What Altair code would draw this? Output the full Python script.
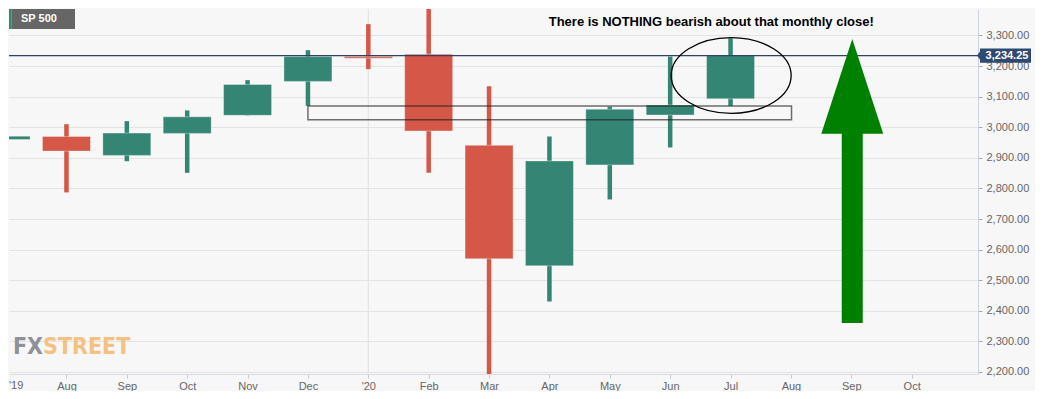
import json
import altair as alt
import pandas as pd

# ---------------- data ----------------
month_labels = ["'19", "Aug", "Sep", "Oct", "Nov", "Dec", "'20", "Feb", "Mar",
                "Apr", "May", "Jun", "Jul", "Aug", "Sep", "Oct"]
candle_idx = list(range(13))  # Jul 2019 .. Jul 2020
opens  = [2960, 2970, 2908, 2980, 3039, 3150, 3231, 3239, 2941, 2547, 2877, 3040, 3093]
highs  = [3026, 3010, 3020, 3055, 3154, 3252, 3337, 3393, 3134, 2970, 3067, 3231, 3291]
lows   = [2952, 2787, 2889, 2851, 3039, 3070, 3190, 2851, 2192, 2430, 2764, 2934, 3070]
closes = [2971, 2922, 2981, 3034, 3140, 3231, 3226, 2988, 2570, 2890, 3059, 3073, 3234.25]

last_close = 3234.25
zone_x = [5.0, 13.01]          # support box (month index)
zone_price = [3024.4, 3069.5]  # support box (price)
ellipse_at = [12.01, 3169.2]
arrow_at = [14.016, 2824.4]
note_at = [11.68, 3343]
note_text = "There is NOTHING bearish about that monthly close!"
y_ticks = list(range(2200, 3400, 100))

df = pd.DataFrame({"i": candle_idx, "open": opens, "high": highs,
                   "low": lows, "close": closes})
df["dir"] = ["up" if c >= o else "down" for o, c in zip(opens, closes)]

FONT = "Liberation Sans"
xs = alt.Scale(domain=[0.1311, 16.016], nice=False, zero=False)
ys = alt.Scale(domain=[2193.4, 3386.6], nice=False, zero=False)
cs = alt.Scale(domain=["up", "down"], range=["#348573", "#d45747"])

x_axis = alt.Axis(values=list(range(1, 16)),
                  labelExpr=f"{json.dumps(month_labels)}[datum.value]",
                  title=None, grid=False, tickSize=4, labelPadding=2,
                  tickColor="#c9c9c9", domainColor="#d9dce6",
                  labelColor="#666666", labelFontSize=11, labelFont=FONT)
y_axis = alt.Axis(orient="right", values=y_ticks, format=",.2f", title=None,
                  grid=True, gridColor="#e3e3e3", gridWidth=1.2,
                  tickSize=4, labelPadding=4, tickColor="#a9a9a9",
                  domainColor="#cdd3e3", labelColor="#666666",
                  labelFontSize=11, labelFont=FONT)


def X(field):
    return alt.X(field, scale=xs, axis=x_axis)


def Y(field):
    return alt.Y(field, scale=ys, axis=y_axis)


year_rule = alt.Chart(pd.DataFrame({"i": [month_labels.index("'20")]})).mark_rule(
    color="#e3e3e3", strokeWidth=1.2).encode(x=X("i:Q"))

wicks = alt.Chart(df).mark_rule(strokeWidth=4.5, clip=True).encode(
    x=X("i:Q"), y=Y("low:Q"), y2="high:Q",
    color=alt.Color("dir:N", scale=cs, legend=None))

bodies = alt.Chart(df).mark_bar(size=48, clip=True, stroke="white",
                                strokeOpacity=0.35, strokeWidth=1).encode(
    x=X("i:Q"), y=Y("open:Q"), y2="close:Q",
    color=alt.Color("dir:N", scale=cs, legend=None))

price_df = pd.DataFrame({"p": [last_close], "t": [f"{last_close:,.2f}"]})
price_line = alt.Chart(price_df).mark_rule(color="#2d4266", strokeWidth=1.2).encode(
    y=Y("p:Q"))

zone = alt.Chart(pd.DataFrame({"x0": [zone_x[0]], "x1": [zone_x[1]],
                               "y0": [zone_price[0]], "y1": [zone_price[1]]})).mark_rect(
    fillOpacity=0, stroke="#222222", strokeOpacity=0.65, strokeWidth=1.5).encode(
    x=X("x0:Q"), x2="x1:Q", y=Y("y0:Q"), y2="y1:Q")

ellipse_path = "M-1,0A1,0.63,0,1,1,1,0A1,0.63,0,1,1,-1,0Z"
ellipse = alt.Chart(pd.DataFrame({"i": [ellipse_at[0]], "p": [ellipse_at[1]]})).mark_point(
    shape=ellipse_path, size=14400, filled=False, stroke="black",
    strokeWidth=1.3, opacity=1).encode(x=X("i:Q"), y=Y("p:Q"))

arrow_path = ("M0,-1L0.218,-0.333L0.074,-0.333L0.074,1L-0.074,1"
              "L-0.074,-0.333L-0.218,-0.333Z")
arrow = alt.Chart(pd.DataFrame({"i": [arrow_at[0]], "p": [arrow_at[1]]})).mark_point(
    shape=arrow_path, size=80656, filled=True, color="#008000",
    strokeWidth=0, opacity=1).encode(x=X("i:Q"), y=Y("p:Q"))

note = alt.Chart(pd.DataFrame({"i": [note_at[0]], "p": [note_at[1]], "t": [note_text]})).mark_text(
    font=FONT, fontSize=13, fontWeight="bold", color="black",
    align="center", baseline="middle").encode(x=X("i:Q"), y=Y("p:Q"), text="t:N")

box_path = ("M-1,0L-0.889,-0.148L-0.889,-0.267L1,-0.267L1,0.267"
            "L-0.889,0.267L-0.889,0.148Z")
price_box = alt.Chart(price_df).mark_point(
    shape=box_path, size=2916, filled=True, color="#2f4a72",
    strokeWidth=0, opacity=1).encode(x=alt.value(995), y=Y("p:Q"))
price_text = alt.Chart(price_df).mark_text(
    font=FONT, fontSize=11, fontWeight="bold", color="white",
    align="center", baseline="middle").encode(x=alt.value(998), y=Y("p:Q"), text="t:N")

one = pd.DataFrame({"a": [0]})
tag_stripe = alt.Chart(one).mark_rect(color="#2e8b74").encode(
    x=alt.value(0), x2=alt.value(2.3), y=alt.value(0), y2=alt.value(20))
tag_box = alt.Chart(one).mark_rect(color="#666666").encode(
    x=alt.value(2.3), x2=alt.value(66), y=alt.value(0), y2=alt.value(20))
tag_text = alt.Chart(one).mark_text(
    text="SP 500", font=FONT, fontSize=11, fontWeight="bold", color="white",
    align="left", baseline="middle").encode(x=alt.value(12), y=alt.value(10))

LOGO_FONT = "DejaVu Sans Condensed"
logo_fx = alt.Chart(one).mark_text(
    text="FX", font=LOGO_FONT, fontSize=23,
    fontWeight="bold", color="#8f9199", align="right", baseline="alphabetic").encode(
    x=alt.value(34), y=alt.value(345))
logo_st = alt.Chart(one).mark_text(
    text="STREET", font=LOGO_FONT, fontSize=23,
    fontWeight="bold", color="#f3c283", align="left", baseline="alphabetic").encode(
    x=alt.value(34), y=alt.value(345))

first_label = alt.Chart(one).mark_text(
    text=month_labels[0], font=FONT, fontSize=11, color="#666666",
    align="left", baseline="top").encode(x=alt.value(0), y=alt.value(371))

chart = alt.layer(
    year_rule, logo_fx, logo_st, wicks, bodies, zone, price_line, ellipse, arrow,
    note, price_box, price_text, tag_stripe, tag_box, tag_text, first_label
).properties(
    width=969, height=365,
    padding={"left": 0, "top": 0, "right": 4, "bottom": 0},
    background="#f7f7f7"
).configure_view(strokeWidth=0)

chart.save("out.html", embed_options={"renderer": "svg", "actions": False})
